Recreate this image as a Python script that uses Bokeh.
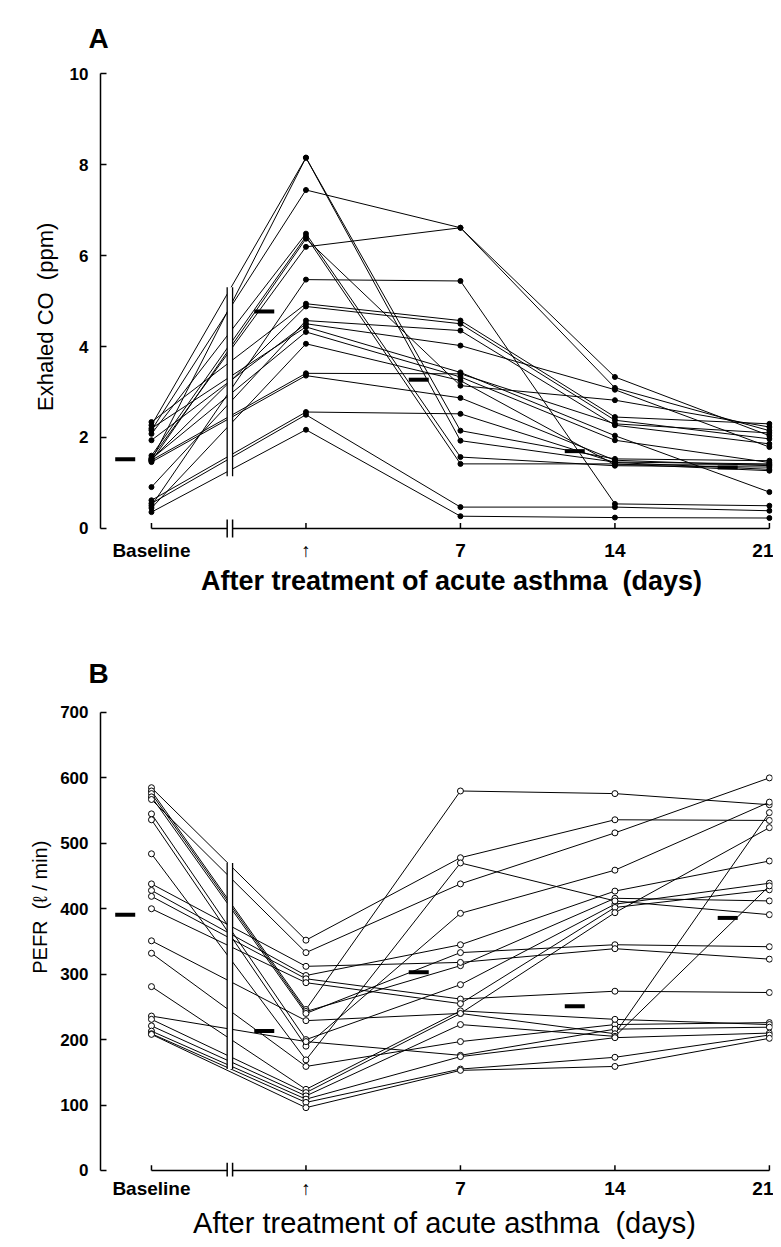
from bokeh.plotting import figure
from bokeh.models import Range1d, FixedTicker, Title
from bokeh.layouts import column
from bokeh.embed import file_html
from bokeh.resources import INLINE

# ---------------- data ----------------
tick_positions = [0, 1, 2, 3, 4]
tick_labels = ["Baseline", "\u2191", "7", "14", "21"]
mean_positions = [-0.17, 0.73, 1.73, 2.74, 3.73]

# Panel A: exhaled CO (ppm), one entry per patient
co_baseline = [2.27, 1.50, 2.16, 1.55, 2.08, 1.60, 1.48, 0.50, 2.34, 1.52,
               0.91, 1.94, 2.20, 1.53, 0.62, 1.50, 1.46, 0.55, 0.45, 0.36]
co_day1 = [8.15, 8.15, 7.44, 6.19, 6.48, 6.42, 6.37, 5.47, 4.94, 4.88,
           4.57, 4.50, 4.43, 4.32, 2.56, 3.41, 3.36, 2.50, 4.06, 2.17]
co_day7 = [2.15, 1.93, 6.61, 6.61, 1.57, 1.42, 3.14, 5.44, 4.57, 4.50,
           4.35, 4.02, 3.43, 3.33, 2.52, 3.40, 2.87, 0.47, 3.25, 0.27]
co_day14 = [1.53, 1.46, 3.33, 3.09, 1.38, 1.42, 2.82, 0.54, 2.45, 2.38,
            2.27, 3.05, 2.04, 1.94, 1.45, 2.30, 1.50, 0.47, 1.40, 0.24]
co_day21 = [1.49, 1.42, 2.04, 2.15, 1.35, 1.27, 2.23, 0.50, 2.30, 1.97,
            1.86, 1.79, 0.80, 1.45, 1.30, 2.10, 1.38, 0.39, 1.40, 0.23]
co_mean = [1.52, 4.77, 3.27, 1.70, 1.34]

# Panel B: PEFR (l/min), one entry per patient
pefr_baseline = [585, 580, 576, 571, 567, 545, 536, 484, 438, 428, 419,
                 400, 351, 332, 281, 236, 231, 221, 213, 209, 208]
pefr_day1 = [352, 246, 243, 240, 333, 200, 190, 169, 312, 298, 293,
             287, 229, 159, 124, 197, 119, 114, 109, 104, 96]
pefr_day7 = [478, 580, 313, 333, 438, 284, 393, 470, 318, 345, 262,
             255, 240, 197, 244, 176, 240, 223, 174, 155, 153]
pefr_day14 = [536, 576, 416, 345, 516, 407, 459, 412, 339, 427, 274,
              402, 394, 223, 231, 216, 209, 205, 203, 173, 159]
pefr_day21 = [535, 559, 412, 342, 600, 439, 563, 391, 323, 473, 272,
              429, 524, 226, 223, 219, 547, 435, 210, 207, 202]
pefr_mean = [391, 213, 303, 251, 386]

FONT = "Liberation Sans"
LABEL_FONT = "'Liberation Sans', 'DejaVu Sans'"
NB = "\u00a0"


def make_panel(letter, series, means, ylab, yticks, ymax, yr, gap, tick_len,
               mark_len, filled, frame_h, top_border, bottom_border,
               xlab, title_size, title_style, title_standoff, ylab_size,
               ylab_standoff):
    p = figure(frame_width=672, frame_height=frame_h, output_backend="svg",
               toolbar_location=None, x_range=Range1d(-0.33, 4.02),
               y_range=Range1d(*yr), min_border_left=100, min_border_right=1,
               min_border_top=top_border, min_border_bottom=bottom_border)
    p.outline_line_color = None
    p.grid.visible = False
    p.background_fill_color = "white"

    t = Title(text=letter, align="left", offset=-12, text_color="black",
              text_font=FONT, text_font_size="28px", text_font_style="bold")
    p.add_layout(t, "above")

    ya = p.yaxis[0]
    ya.ticker = FixedTicker(ticks=yticks)
    ya.bounds = (0, ymax)
    ya.major_tick_in = 6
    ya.major_tick_out = 0
    ya.minor_tick_in = 0
    ya.minor_tick_out = 0
    ya.axis_line_width = 1.5
    ya.major_tick_line_width = 1.5
    ya.axis_line_color = "black"
    ya.major_tick_line_color = "black"
    ya.major_label_text_color = "black"
    ya.major_label_text_font = FONT
    ya.major_label_text_font_style = "bold"
    ya.major_label_text_font_size = "17px"
    ya.major_label_standoff = 12
    ya.axis_label = ylab
    ya.axis_label_text_color = "black"
    ya.axis_label_text_font = FONT
    ya.axis_label_text_font_style = "normal"
    ya.axis_label_text_font_size = ylab_size
    ya.axis_label_standoff = ylab_standoff

    xa = p.xaxis[0]
    xa.ticker = FixedTicker(ticks=tick_positions)
    xa.major_label_overrides = {k: v for k, v in zip(tick_positions, tick_labels)}
    xa.axis_line_color = None
    xa.major_tick_in = 0
    xa.major_tick_out = 0
    xa.minor_tick_in = 0
    xa.minor_tick_out = 0
    xa.major_label_text_color = "black"
    xa.major_label_text_font = LABEL_FONT
    xa.major_label_text_font_style = "bold"
    xa.major_label_text_font_size = "19px"
    xa.major_label_standoff = 1
    xa.axis_label = xlab
    xa.axis_label_text_color = "black"
    xa.axis_label_text_font = FONT
    xa.axis_label_text_font_style = title_style
    xa.axis_label_text_font_size = title_size
    xa.axis_label_standoff = title_standoff

    xs, ys = [], []
    for vals in zip(*series):
        xs.append(tick_positions)
        ys.append(list(vals))
    p.multi_line(xs, ys, line_color="black", line_width=1)

    b0, b1 = 0.49, 0.525
    p.quad(left=[b0], right=[b1], bottom=[gap[0]], top=[gap[1]],
           fill_color="white", line_color=None)
    p.segment(x0=[b0, b1], y0=[gap[0], gap[0]], x1=[b0, b1], y1=[gap[1], gap[1]],
              line_color="black", line_width=1.3)

    for pos, arr in zip(tick_positions, series):
        if filled:
            p.scatter([pos] * len(arr), arr, size=5, marker="circle",
                      fill_color="black", line_color="black")
        else:
            p.scatter([pos] * len(arr), arr, size=6, marker="circle",
                      fill_color="white", line_color="black", line_width=1)

    p.rect(x=mean_positions, y=means, width=20, height=4,
           width_units="screen", height_units="screen",
           fill_color="black", line_color=None)

    p.segment(x0=[0, b1], y0=[0, 0], x1=[b0, 4], y1=[0, 0],
              line_color="black", line_width=1.5)
    p.segment(x0=tick_positions, y0=[0] * 5, x1=tick_positions,
              y1=[tick_len] * 5, line_color="black", line_width=1.5)
    p.segment(x0=[b0, b1], y0=[-mark_len, -mark_len], x1=[b0, b1],
              y1=[mark_len, mark_len], line_color="black", line_width=1.5)
    return p


pA = make_panel("A", [co_baseline, co_day1, co_day7, co_day14, co_day21],
                co_mean, "Exhaled CO" + NB * 2 + "(ppm)" + NB * 6,
                [0, 2, 4, 6, 8, 10], 10,
                (-0.22, 10.33), (1.15, 5.3), 0.12, 0.2, True,
                480, 58, 60,
                NB * 4 + "After treatment of acute asthma" + NB * 2 + "(days)",
                "27px", "bold", 2, "22px", 9)

pB = make_panel("B", [pefr_baseline, pefr_day1, pefr_day7, pefr_day14, pefr_day21],
                pefr_mean, NB * 10 + "PEFR" + NB * 2 + "(\u2113 / min)",
                [0, 100, 200, 300, 400, 500, 600, 700], 700,
                (-9.2, 729.0), (155, 470), 8, 12, False,
                483, 95, 63,
                NB * 2 + "After treatment of acute asthma" + NB * 2 + "(days)",
                "29px", "normal", 5, "20px", 6)

layout = column(pA, pB, spacing=0)
open("out.html", "w").write(file_html(layout, INLINE))
